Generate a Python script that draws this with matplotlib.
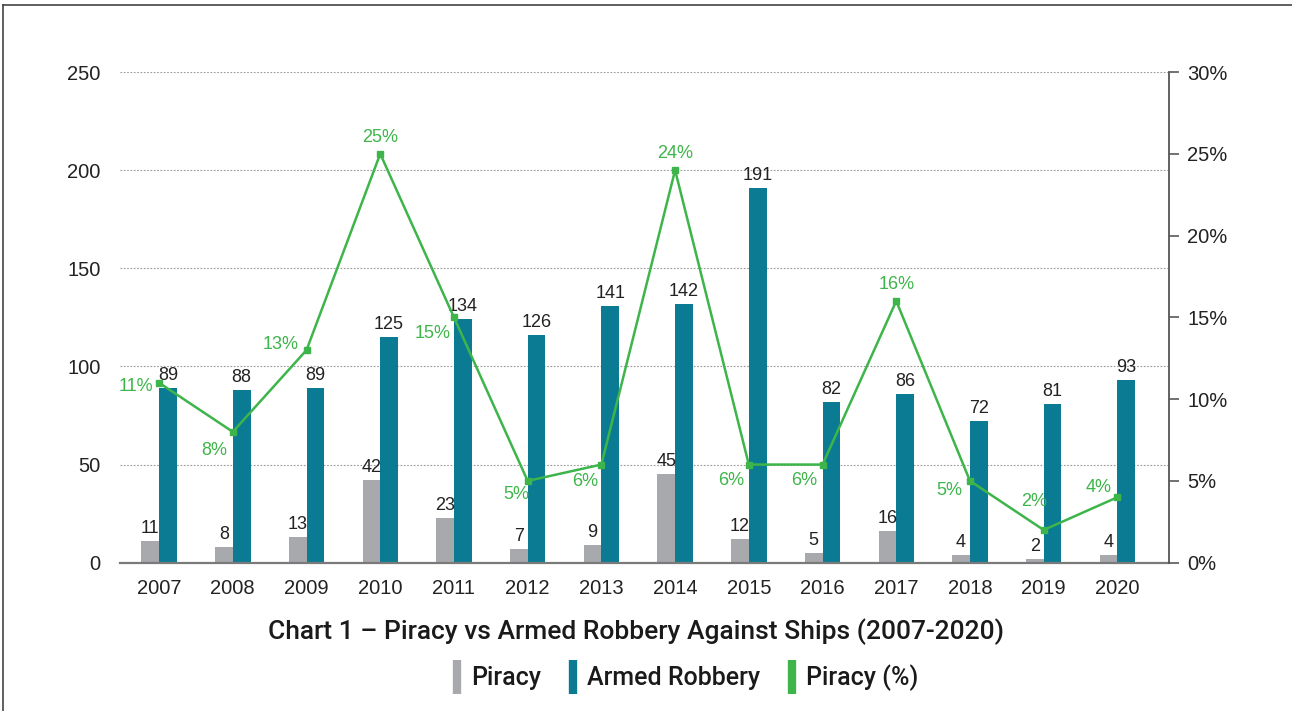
import numpy as np
import matplotlib.pyplot as plt
from matplotlib.lines import Line2D

plt.rcParams['font.family'] = ['Liberation Sans', 'DejaVu Sans']

# Data
years = ['2007', '2008', '2009', '2010', '2011', '2012', '2013',
         '2014', '2015', '2016', '2017', '2018', '2019', '2020']
piracy = [11, 8, 13, 42, 23, 7, 9, 45, 12, 5, 16, 4, 2, 4]
# labels printed above the teal bars
armed_robbery = [89, 88, 89, 125, 134, 126, 141, 142, 191, 82, 86, 72, 81, 93]
# heights the teal bars are actually drawn at in the original
armed_robbery_drawn = [89, 88, 89, 115, 124, 116, 131, 132, 191, 82, 86, 72, 81, 93]
piracy_pct = [11, 8, 13, 25, 15, 5, 6, 24, 6, 6, 16, 5, 2, 4]

GRAY = '#a7a9ac'
TEAL = '#0b7b93'
GREEN = '#3db54a'
TITLE_FONT = ['Roboto', 'Liberation Sans']

# label placement for the % line (pixel offsets, alignment)
pct_pos = [(-6, -4, 'right', 'center'), (-6, -10, 'right', 'top'),
           (-8, 6, 'right', 'center'), (0, 8, 'center', 'bottom'),
           (-3, -8, 'right', 'top'), (2, -5, 'right', 'top'),
           (-3, -8, 'right', 'top'), (0, 8, 'center', 'bottom'),
           (-5, -7, 'right', 'top'), (-5, -7, 'right', 'top'),
           (0, 8, 'center', 'bottom'), (-8, -1, 'right', 'top'),
           (3, 20, 'right', 'bottom'), (-6, 1, 'right', 'bottom')]

fig = plt.figure(figsize=(12.92, 7.11), dpi=100)
ax = fig.add_axes([0.0929, 0.2086, 0.8119, 0.6901])
x = np.arange(len(years))
w = 0.24

ax.bar(x - w / 2, piracy, width=w, color=GRAY, zorder=2)
ax.bar(x + w / 2, armed_robbery_drawn, width=w, color=TEAL, zorder=2)

for i in range(len(years)):
    ax.text(x[i] - w / 2, piracy[i] + 2, str(piracy[i]), ha='center', va='bottom',
            fontsize=13, color='#222222', zorder=5)
    ax.text(x[i] + w / 2, armed_robbery_drawn[i] + 2, str(armed_robbery[i]), ha='center',
            va='bottom', fontsize=13, color='#222222', zorder=5)

ax.set_xlim(-0.53, 13.7)
ax.set_ylim(0, 250)
ax.set_yticks([0, 50, 100, 150, 200, 250])
ax.set_xticks(x)
ax.set_xticklabels(years)
ax.tick_params(axis='x', length=0, pad=12, labelsize=14.5, labelcolor='#222222')
ax.tick_params(axis='y', length=0, pad=14, labelsize=14.5, labelcolor='#222222')
ax.grid(axis='y', linestyle=(0, (1.5, 1.5)), color='#999999', linewidth=0.8, zorder=0)
for s in ['top', 'left', 'right']:
    ax.spines[s].set_visible(False)
ax.spines['bottom'].set_color('#7a7a7a')
ax.spines['bottom'].set_linewidth(1.6)
ax.spines['bottom'].set_zorder(3)

ax2 = ax.twinx()
ax2.plot(x, piracy_pct, color=GREEN, linewidth=1.8, marker='s', markersize=5, zorder=4)
ax2.set_ylim(0, 30)
ax2.set_yticks(range(0, 31, 5))
ax2.set_yticklabels([f'{v}%' for v in range(0, 31, 5)])
ax2.tick_params(axis='y', direction='out', length=7, width=1.3, color='#666666',
                pad=6, labelsize=14.5, labelcolor='#222222')
for s in ['top', 'left', 'bottom']:
    ax2.spines[s].set_visible(False)
ax2.spines['right'].set_color('#555555')
ax2.spines['right'].set_linewidth(1.3)

for i in range(len(years)):
    dx, dy, ha, va = pct_pos[i]
    ax2.annotate(f'{piracy_pct[i]}%', (x[i], piracy_pct[i]), xytext=(dx, dy),
                 textcoords='offset pixels', ha=ha, va=va, fontsize=13, color=GREEN)

fig.text(636 / 1292, 1 - 632 / 711, 'Chart 1 \u2013 Piracy vs Armed Robbery Against Ships (2007-2020)',
         ha='center', va='center', fontsize=19, fontweight='medium',
         family=TITLE_FONT, color='#1a1a1a')

handles = [Line2D([], [], marker='|', linestyle='none', markersize=24, markeredgewidth=6, color=c)
           for c in [GRAY, TEAL, GREEN]]
leg = fig.legend(handles, ['Piracy', 'Armed Robbery', 'Piracy (%)'], loc='center',
                 bbox_to_anchor=(684 / 1292, 1 - 678 / 711), ncol=3, frameon=False,
                 handlelength=0.6, handletextpad=0.25, columnspacing=1.0,
                 prop={'family': TITLE_FONT, 'size': 18, 'weight': 'medium'})
for t in leg.get_texts():
    t.set_color('#1a1a1a')

# thin frame around the picture
fig.add_artist(Line2D([3 / 1292, 3 / 1292], [0, 1 - 5 / 711], transform=fig.transFigure,
                      color='#444444', linewidth=1.2))
fig.add_artist(Line2D([3 / 1292, 1], [1 - 5 / 711, 1 - 5 / 711], transform=fig.transFigure,
                      color='#444444', linewidth=1.2))

fig.savefig('out.png', dpi=100)
